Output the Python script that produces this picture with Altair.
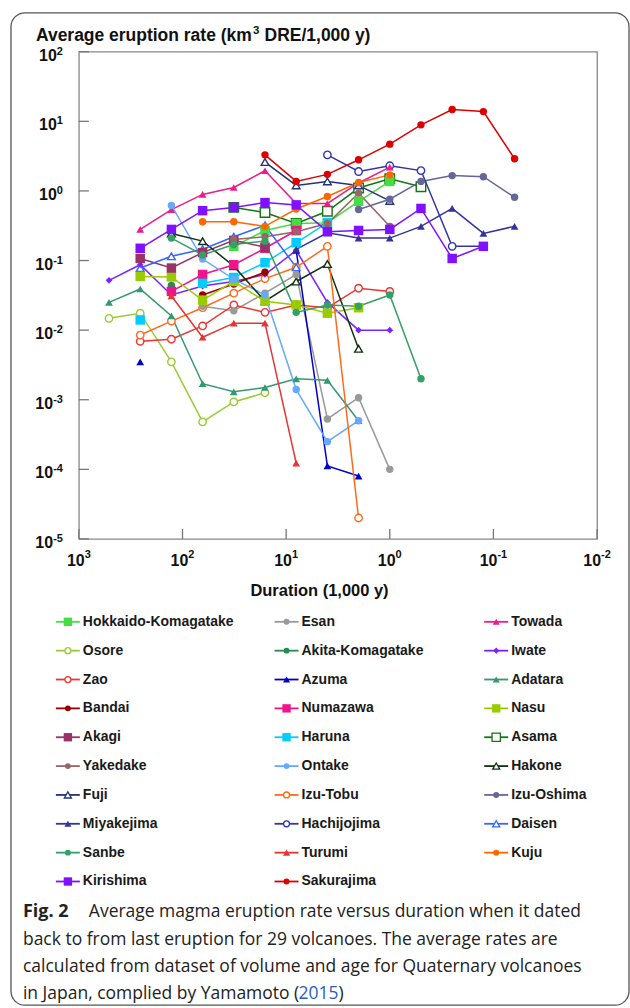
import altair as alt
import pandas as pd

N = None
# Duration (1,000 y) columns shared by every series
DURATION = [512, 256, 128, 64, 32, 16, 8, 4, 2, 1, 0.5, 0.25, 0.125, 0.0625]

# Average eruption rate (km3 DRE / 1,000 y), aligned with DURATION (None = no value)
HOKKAIDO_KOMAGATAKE = [N, N, N, N, 0.16, 0.27, 0.34, 0.35, 0.71, 1.37, N, N, N, N]
ESAN = [N, N, N, 0.022, 0.019, 0.034, 0.063, 0.00053, 0.00107, 0.0001, N, N, N, N]
TOWADA = [N, 0.28, 0.54, 0.89, 1.12, 1.95, 0.66, 0.66, 1.3, 2.2, N, N, N, N]
OSORE = [0.0148, 0.0175, 0.0035, 0.00048, 0.00093, 0.00126, N, N, N, N, N, N, N, N]
AKITA_KOMAGATAKE = [N, N, 0.044, N, N, N, N, N, N, N, N, N, N, N]
IWATE = [0.052, 0.087, 0.032, 0.043, 0.05, 0.063, 0.14, 0.025, 0.01, 0.01, N, N, N, N]
ZAO = [N, 0.0069, 0.0074, 0.0115, 0.023, 0.018, 0.023, 0.021, 0.04, 0.036, N, N, N, N]
AZUMA = [N, 0.0035, N, N, N, N, 0.14, 0.000112, 0.00008, N, N, N, N, N]
ADATARA = [0.025, 0.039, 0.016, 0.0017, 0.0013, 0.0015, 0.002, 0.0019, 0.0005, N, N, N, N, N]
BANDAI = [N, N, N, 0.032, 0.046, 0.068, N, N, N, N, N, N, N, N]
NUMAZAWA = [N, N, 0.036, 0.063, 0.087, 0.15, 0.27, N, N, N, N, N, N, N]
NASU = [N, 0.059, 0.058, 0.027, 0.05, 0.026, 0.023, 0.0175, 0.021, N, N, N, N, N]
AKAGI = [N, 0.107, 0.078, 0.13, 0.195, 0.155, N, N, N, N, N, N, N, N]
HARUNA = [N, 0.014, N, 0.047, 0.057, 0.093, 0.18, 0.35, N, N, N, N, N, N]
ASAMA = [N, N, N, N, 0.58, 0.49, 0.34, 0.51, 1.1, 1.5, 1.15, N, N, N]
YAKEDAKE = [N, N, N, N, 0.2, 0.22, 0.26, 0.34, 0.93, 0.31, N, N, N, N]
ONTAKE = [N, N, 0.62, 0.105, 0.054, 0.032, 0.0014, 0.00025, 0.0005, N, N, N, N, N]
HAKONE = [N, N, 0.245, 0.19, 0.083, 0.026, 0.05, 0.089, 0.0054, N, N, N, N, N]
FUJI = [N, N, N, N, N, 2.6, 1.2, 1.37, 1.2, 0.72, N, N, N, N]
IZU_TOBU = [N, 0.0085, 0.0135, 0.021, 0.034, 0.055, 0.08, 0.16, 0.00002, N, N, N, N, N]
IZU_OSHIMA = [N, N, N, N, N, N, N, N, 0.54, 0.76, 1.37, 1.66, 1.6, 0.81]
MIYAKEJIMA = [N, N, N, N, N, N, 0.145, 0.25, 0.21, 0.21, 0.31, 0.56, 0.245, 0.31]
HACHIJOJIMA = [N, N, N, N, N, N, N, 3.3, 1.9, 2.3, 1.96, 0.16, 0.16, N]
DAISEN = [N, 0.078, 0.115, 0.145, 0.22, 0.32, 0.08, N, N, N, N, N, N, N]
SANBE = [N, N, 0.21, 0.12, 0.17, 0.19, 0.018, 0.023, 0.022, 0.032, 0.002, N, N, N]
TURUMI = [N, N, 0.031, 0.0079, 0.0126, 0.0126, 0.000123, N, N, N, N, N, N, N]
KUJU = [N, N, N, 0.36, 0.36, 0.31, 0.55, 0.83, 1.32, 1.7, N, N, N, N]
KIRISHIMA = [N, 0.15, 0.28, 0.52, 0.58, 0.68, 0.63, 0.26, 0.27, 0.28, 0.56, 0.107, 0.16, N]
SAKURAJIMA = [N, N, N, N, N, 3.3, 1.37, 1.73, 2.8, 4.7, 8.9, 14.8, 13.8, 2.9]

VOLCANOES = ["Hokkaido-Komagatake", "Esan", "Towada", "Osore", "Akita-Komagatake", "Iwate",
             "Zao", "Azuma", "Adatara", "Bandai", "Numazawa", "Nasu", "Akagi", "Haruna", "Asama",
             "Yakedake", "Ontake", "Hakone", "Fuji", "Izu-Tobu", "Izu-Oshima", "Miyakejima",
             "Hachijojima", "Daisen", "Sanbe", "Turumi", "Kuju", "Kirishima", "Sakurajima"]
RATES = [HOKKAIDO_KOMAGATAKE, ESAN, TOWADA, OSORE, AKITA_KOMAGATAKE, IWATE, ZAO, AZUMA, ADATARA,
         BANDAI, NUMAZAWA, NASU, AKAGI, HARUNA, ASAMA, YAKEDAKE, ONTAKE, HAKONE, FUJI, IZU_TOBU,
         IZU_OSHIMA, MIYAKEJIMA, HACHIJOJIMA, DAISEN, SANBE, TURUMI, KUJU, KIRISHIMA, SAKURAJIMA]
COLORS = ["#44DD44", "#999999", "#EC1C8C", "#99CC33", "#2A8A55", "#7B22FF",
          "#EE3333", "#0000CC", "#339970", "#990000", "#F0148C", "#99CC00", "#993366", "#00CCFF", "#117711",
          "#996666", "#66AAFF", "#113311", "#223377", "#FF6A1A", "#666699", "#333399",
          "#3333AA", "#3366FF", "#33A066", "#E63333", "#FF6600", "#7F11FF", "#DD0000"]
SHAPES = ["square", "circle", "triangle-up", "circle", "circle", "diamond",
          "circle", "triangle-up", "triangle-up", "circle", "square", "square", "square", "square", "square",
          "circle", "circle", "triangle-up", "triangle-up", "circle", "circle", "triangle-up",
          "circle", "triangle-up", "circle", "triangle-up", "circle", "square", "circle"]
HOLLOW = [False, False, False, True, False, False,
          True, False, False, False, False, False, False, False, True,
          False, False, True, True, True, False, False,
          True, True, False, False, False, False, False]

X_TICKS = [1000, 100, 10, 1, 0.1, 0.01]
X_EXP = ["3", "2", "1", "0", "-1", "-2"]
Y_TICKS = [100, 10, 1, 0.1, 0.01, 0.001, 0.0001, 0.00001]
Y_EXP = ["2", "1", "0", "-1", "-2", "-3", "-4", "-5"]

# ---- layout constants (pixels, relative to plot origin) ----
W, H = 519, 488
MARK_SIZE = {"square": 90, "circle": 55, "triangle-up": 60, "diamond": 45}
LEG_SIZE = {"square": 70, "circle": 35, "triangle-up": 50, "diamond": 38}
LEG_COL_X = [-11, 208, 418]
LEG_Y0, LEG_DY = 571, 28.9
AXFONT = "Liberation Sans"
W10 = 17.8                      # width of "10" at 16px bold
EXP_W = {1: 6.1, 2: 9.8}        # width of exponent at 11px bold

rows = []
for name, vals, shp, hol in zip(VOLCANOES, RATES, SHAPES, HOLLOW):
    seg, prev = 0, False
    for d, v in zip(DURATION, vals):
        if v is None:
            if prev:
                seg += 1
            prev = False
            continue
        rows.append(dict(name=name, dur=d, rate=v, key=f"{name}#{seg}", hollow=hol,
                         sz=MARK_SIZE[shp]))
        prev = True
df = pd.DataFrame(rows)

leg = []
for i, (name, shp, hol) in enumerate(zip(VOLCANOES, SHAPES, HOLLOW)):
    c, r = i % 3, i // 3
    cx = LEG_COL_X[c]
    leg.append(dict(name=name, lx=cx, lx1=cx - 12, lx2=cx + 12, tx=cx + 15,
                    ly=LEG_Y0 + r * LEG_DY, hollow=hol, sz=LEG_SIZE[shp]))
ldf = pd.DataFrame(leg)

color = alt.Color("name:N", scale=alt.Scale(domain=VOLCANOES, range=COLORS), legend=None)
shape = alt.Shape("name:N", scale=alt.Scale(domain=VOLCANOES, range=SHAPES), legend=None)
size = alt.Size("sz:Q", scale=None, legend=None)

x_enc = alt.X("dur:Q", scale=alt.Scale(type="log", domain=[0.01, 1000], reverse=True, nice=False),
              axis=None)
y_enc = alt.Y("rate:Q", scale=alt.Scale(type="log", domain=[1e-5, 100], nice=False), axis=None)

base = alt.Chart(df)
lines = base.mark_line(strokeWidth=1.5).encode(x=x_enc, y=y_enc, color=color, detail="key:N")
pts_f = base.transform_filter("!datum.hollow").mark_point(filled=True, opacity=1).encode(
    x=x_enc, y=y_enc, color=color, shape=shape, size=size)
pts_o = base.transform_filter("datum.hollow").mark_point(
    filled=False, fill="white", opacity=1, strokeWidth=1.4).encode(
    x=x_enc, y=y_enc, color=color, shape=shape, size=size)

xdf = pd.DataFrame({"dur": X_TICKS, "exp": X_EXP})
ydf = pd.DataFrame({"rate": Y_TICKS, "exp": Y_EXP})
xt = alt.Chart(xdf).mark_rule(color="#777", strokeWidth=1.3).encode(
    x=x_enc, y=alt.value(H - 10), y2=alt.value(H))
yt = alt.Chart(ydf).mark_rule(color="#777", strokeWidth=1.3).encode(
    y=y_enc, x=alt.value(0), x2=alt.value(10))

LBL = dict(font=AXFONT, fontWeight="bold", color="#111", baseline="alphabetic")
tick_labels = []
for n, ew in EXP_W.items():
    flt = f"length(datum.exp) == {n}"
    # x axis: "10" + raised exponent, centred on the tick
    tick_labels.append(alt.Chart(xdf).transform_filter(flt).mark_text(
        text="10", align="left", dx=-(W10 + ew) / 2, fontSize=16, **LBL).encode(
        x=x_enc, y=alt.value(H + 27)))
    tick_labels.append(alt.Chart(xdf).transform_filter(flt).mark_text(
        align="left", dx=(W10 - ew) / 2, fontSize=11, **LBL).encode(
        x=x_enc, y=alt.value(H + 19), text="exp:N"))
    # y axis: right-aligned
    tick_labels.append(alt.Chart(ydf).transform_filter(flt).mark_text(
        text="10", align="right", dx=-16 - ew, dy=9, fontSize=16, **LBL).encode(
        y=y_enc, x=alt.value(0)))
    tick_labels.append(alt.Chart(ydf).transform_filter(flt).mark_text(
        align="right", dx=-16, dy=3, fontSize=11, **LBL).encode(
        y=y_enc, x=alt.value(0), text="exp:N"))

plot = alt.layer(xt, yt, *tick_labels, lines, pts_o, pts_f)

# ---- legend (identity scales: layout pixels) ----
lb = alt.Chart(ldf)
lxe = alt.X("lx:Q", scale=None, axis=None)
lye = alt.Y("ly:Q", scale=None, axis=None)
leg_rule = lb.mark_rule(strokeWidth=1.8).encode(
    x=alt.X("lx1:Q", scale=None, axis=None), x2="lx2:Q", y=lye, color=color)
leg_f = lb.transform_filter("!datum.hollow").mark_point(filled=True, opacity=1).encode(
    x=lxe, y=lye, color=color, shape=shape, size=size)
leg_o = lb.transform_filter("datum.hollow").mark_point(
    filled=False, fill="white", opacity=1, strokeWidth=1.3).encode(
    x=lxe, y=lye, color=color, shape=shape, size=size)
leg_t = lb.mark_text(align="left", baseline="middle", font=AXFONT,
                     fontSize=14, fontWeight="bold", color="#1a1a1a").encode(
    x=alt.X("tx:Q", scale=None, axis=None), y=lye, text="name:N")
legend = alt.layer(leg_rule, leg_o, leg_f, leg_t)


def txt(s, x, y, **kw):
    return alt.Chart(alt.Data(values=[{}])).mark_text(text=s, **kw).encode(
        x=alt.value(x), y=alt.value(y))


border = alt.Chart(alt.Data(values=[{}])).mark_rect(
    cornerRadius=14, fillOpacity=0, stroke="#555", strokeWidth=1.3).encode(
    x=alt.value(-68), x2=alt.value(551), y=alt.value(-39), y2=alt.value(955))

TT = dict(font=AXFONT, fontWeight="bold", align="left", baseline="alphabetic", color="#111")
CAP = dict(font="Open Sans", fontSize=17.5, color="#222", align="left", baseline="middle")
deco = alt.layer(
    border,
    txt("Average eruption rate (km", -43, -11, fontSize=17.5, **TT),
    txt("3", 174.5, -18, fontSize=11.5, **TT),
    txt("DRE/1,000 y)", 186, -11, fontSize=17.5, **TT),
    txt("Duration (1,000 y)", 241, 545, font=AXFONT, fontSize=16.5, fontWeight="bold",
        align="center", baseline="alphabetic", color="#111"),
    txt("Fig. 2", -56, 862, font="Open Sans", fontSize=18, fontWeight="bold", color="#222",
        align="left", baseline="middle"),
    txt("Average magma eruption rate versus duration when it dated", 10, 862, **CAP),
    txt("back to from last eruption for 29 volcanoes. The average rates are", -56, 890, **CAP),
    txt("calculated from dataset of volume and age for Quaternary volcanoes", -56, 917, **CAP),
    txt("in Japan, complied by Yamamoto (", -56, 944, **CAP),
    txt("2015", 220, 944, font="Open Sans", fontSize=17.5, color="#2B5CC4", align="left",
        baseline="middle"),
    txt(")", 260, 944, **CAP),
)

chart = alt.layer(deco, plot, legend).resolve_scale(
    x="independent", y="independent"
).properties(
    width=W, height=H, background="white",
    padding={"left": 10, "top": 11, "right": 0, "bottom": 0},
).configure_view(stroke="#888", strokeWidth=1.3)

chart.save("out.html", embed_options={"renderer": "svg", "actions": False})
